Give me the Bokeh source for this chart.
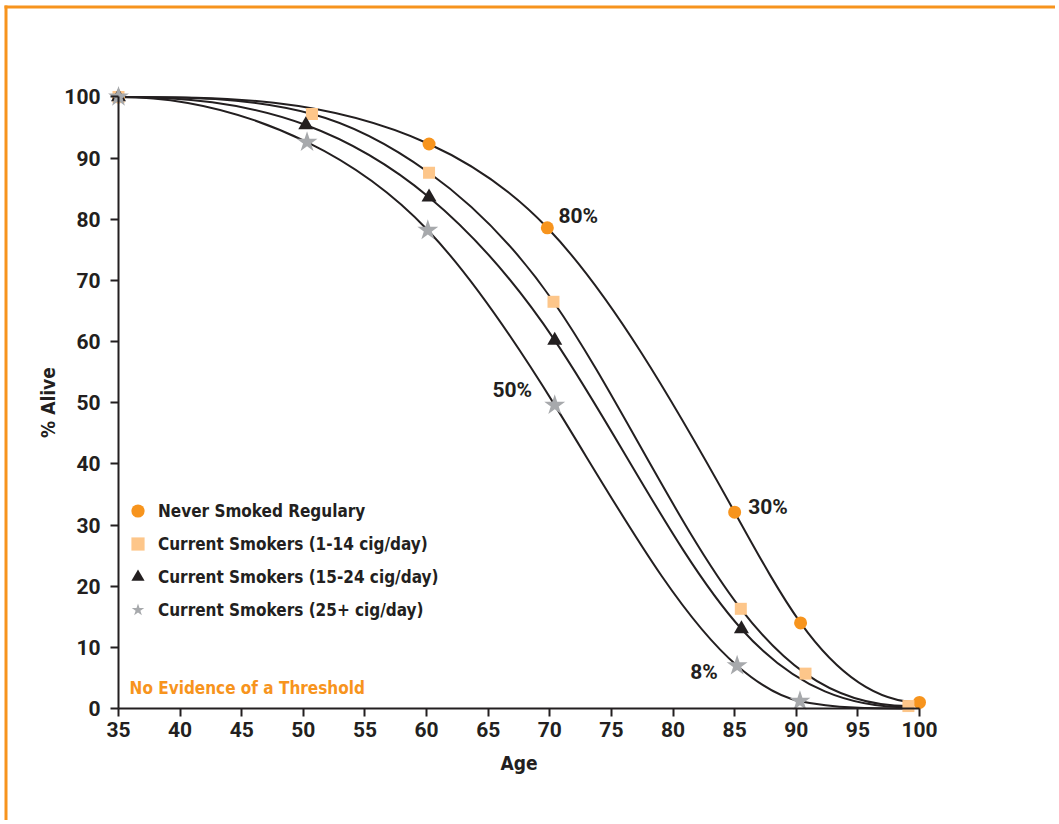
import numpy as np
from bokeh.plotting import figure
from bokeh.models import Range1d, FixedTicker, Legend, LegendItem, Label, BoxAnnotation
from bokeh.embed import file_html
from bokeh.resources import INLINE

# ---- data ----
series_names = [
    "Never Smoked Regulary",
    "Current Smokers (1-14 cig/day)",
    "Current Smokers (15-24 cig/day)",
    "Current Smokers (25+ cig/day)",
]
never_age = [35, 60.2, 69.8, 85.0, 90.35, 100.0]
never_alive = [100, 92.3, 78.6, 32.1, 14.0, 1.0]
light_age = [35, 50.7, 60.2, 70.3, 85.5, 90.75, 99.1]
light_alive = [100, 97.2, 87.6, 66.5, 16.3, 5.7, 0.4]
medium_age = [35, 50.2, 60.2, 70.4, 85.55, 99.1]
medium_alive = [100, 95.4, 83.6, 60.2, 13.0, 0.2]
heavy_age = [35, 50.3, 60.1, 70.4, 85.2, 90.3, 99.1]
heavy_alive = [100, 92.6, 78.2, 49.6, 7.0, 1.2, 0.0]

age_ticks = [35, 40, 45, 50, 55, 60, 65, 70, 75, 80, 85, 90, 95, 100]
alive_ticks = [0, 10, 20, 30, 40, 50, 60, 70, 80, 90, 100]

note_texts = ["80%", "50%", "30%", "8%"]
note_age = [70.7, 65.35, 86.1, 81.4]
note_alive = [80.5, 52.0, 32.9, 5.9]
threshold_text = "No Evidence of a Threshold"

# ---- styles / layout ----
ORANGE = "#F7941D"
PEACH = "#FDC68A"
DARK = "#231F20"
GRAY = "#A7A9AC"
COND = "'Liberation Sans Narrow', 'DejaVu Sans Condensed', 'Roboto Condensed', sans-serif"
NUM = "Roboto"

W, H = 1055, 820
PX_X0, PX_PER_YEAR = 118.0, 12.323   # page x of age 35, pixels per year
PX_Y0, PX_PER_PCT = 708.0, 6.116     # page y of 0 %, pixels per percent
x_start = 35 - PX_X0 / PX_PER_YEAR
x_end = x_start + W / PX_PER_YEAR
y_end = PX_Y0 / PX_PER_PCT
y_start = y_end - H / PX_PER_PCT


def px_to_age(px):
    return 35 + (px - PX_X0) / PX_PER_YEAR


def px_to_pct(py):
    return (PX_Y0 - py) / PX_PER_PCT


def smooth_slopes(x, y):
    """Clamped cubic spline slopes (flat ends), limited to keep each piece monotone."""
    x = np.asarray(x, float)
    y = np.asarray(y, float)
    n = len(x)
    h = np.diff(x)
    d = np.diff(y) / h
    A = np.zeros((n, n))
    b = np.zeros(n)
    A[0, 0] = 1
    A[-1, -1] = 1
    for i in range(1, n - 1):
        A[i, i - 1] = h[i]
        A[i, i] = 2 * (h[i - 1] + h[i])
        A[i, i + 1] = h[i - 1]
        b[i] = 3 * (h[i] * d[i - 1] + h[i - 1] * d[i])
    m = np.linalg.solve(A, b)
    for k in range(n - 1):
        if d[k] == 0:
            m[k] = m[k + 1] = 0
            continue
        a, c = m[k] / d[k], m[k + 1] / d[k]
        if a < 0:
            m[k] = 0
            a = 0
        if c < 0:
            m[k + 1] = 0
            c = 0
        s = a * a + c * c
        if s > 9:
            t = 3 / np.sqrt(s)
            m[k] = t * a * d[k]
            m[k + 1] = t * c * d[k]
    return m


def bezier_segments(x, y):
    x = np.asarray(x, float)
    y = np.asarray(y, float)
    m = smooth_slopes(x, y)
    h = np.diff(x)
    return dict(
        x0=x[:-1], y0=y[:-1], x1=x[1:], y1=y[1:],
        cx0=x[:-1] + h / 3, cy0=y[:-1] + m[:-1] * h / 3,
        cx1=x[1:] - h / 3, cy1=y[1:] - m[1:] * h / 3,
    )


p = figure(
    width=W, height=H, title=None,
    x_range=Range1d(x_start, x_end), y_range=Range1d(y_start, y_end),
    output_backend="svg", toolbar_location=None,
    min_border_left=0, min_border_right=0, min_border_top=0, min_border_bottom=0,
)
p.outline_line_color = None
p.xgrid.grid_line_color = None
p.ygrid.grid_line_color = None
p.background_fill_color = "white"
p.border_fill_color = "white"

# orange frame (left and top edges)
p.add_layout(BoxAnnotation(left=px_to_age(4), right=px_to_age(7), top=px_to_pct(5),
                           fill_color=ORANGE, fill_alpha=1, line_color=None, level="underlay"))
p.add_layout(BoxAnnotation(left=px_to_age(4), top=px_to_pct(5), bottom=px_to_pct(8),
                           fill_color=ORANGE, fill_alpha=1, line_color=None, level="underlay"))

# curves
for ages, vals in [(never_age, never_alive), (light_age, light_alive),
                   (medium_age, medium_alive), (heavy_age, heavy_alive)]:
    seg = bezier_segments(ages, vals)
    p.bezier(x0="x0", y0="y0", x1="x1", y1="y1", cx0="cx0", cy0="cy0",
             cx1="cx1", cy1="cy1", source=seg, line_color=DARK, line_width=2)

# markers
r_never = p.scatter(never_age, never_alive, marker="circle", size=13,
                    fill_color=ORANGE, line_color=None)
r_light = p.scatter(light_age, light_alive, marker="square", size=12,
                    fill_color=PEACH, line_color=None)
r_medium = p.scatter(medium_age[:-1], medium_alive[:-1], marker="triangle", size=15,
                     fill_color=DARK, line_color=None)
r_heavy = p.scatter(heavy_age[:-1], heavy_alive[:-1], marker="star", size=22,
                    fill_color=GRAY, line_color=None)

# axes
p.xaxis.fixed_location = 0
p.yaxis.fixed_location = 35
p.xaxis.bounds = (35, 100)
p.yaxis.bounds = (0, 100)
p.xaxis.ticker = FixedTicker(ticks=age_ticks)
p.yaxis.ticker = FixedTicker(ticks=alive_ticks)
p.xaxis.axis_label = "Age"
p.yaxis.axis_label = "% Alive"
for ax in (p.xaxis[0], p.yaxis[0]):
    ax.axis_line_width = 2
    ax.axis_line_color = DARK
    ax.major_tick_line_width = 2
    ax.major_tick_line_color = DARK
    ax.major_tick_out = 8
    ax.major_tick_in = 0
    ax.minor_tick_line_color = None
    ax.major_label_text_font = NUM
    ax.major_label_text_font_style = "bold"
    ax.major_label_text_font_size = "21px"
    ax.major_label_text_color = DARK
    ax.axis_label_text_font = COND
    ax.axis_label_text_font_style = "bold"
    ax.axis_label_text_font_size = "19px"
    ax.axis_label_text_color = DARK
p.xaxis.major_label_standoff = 5
p.yaxis.major_label_standoff = 10
p.xaxis.axis_label_standoff = 12
p.yaxis.axis_label_standoff = 2

# annotations
for t, xa, ya in zip(note_texts, note_age, note_alive):
    p.add_layout(Label(x=xa, y=ya, text=t, text_baseline="middle", text_align="left",
                       text_font=NUM, text_font_style="bold", text_font_size="21px",
                       text_color=DARK))
p.add_layout(Label(x=35.9, y=3.3, text=threshold_text, text_baseline="middle",
                   text_align="left", text_font=COND, text_font_style="bold",
                   text_font_size="17px", text_color=ORANGE))

legend = Legend(
    items=[LegendItem(label=series_names[0], renderers=[r_never]),
           LegendItem(label=series_names[1], renderers=[r_light]),
           LegendItem(label=series_names[2], renderers=[r_medium]),
           LegendItem(label=series_names[3], renderers=[r_heavy])],
    location=(121, H - 626), orientation="vertical",
    glyph_width=33, glyph_height=33, label_height=33, spacing=0,
    label_standoff=4, padding=0, margin=0,
    border_line_color=None, background_fill_alpha=0,
    label_text_font=COND, label_text_font_style="bold",
    label_text_font_size="17px", label_text_color=DARK,
)
p.add_layout(legend)

open("out.html", "w").write(file_html(p, INLINE))
